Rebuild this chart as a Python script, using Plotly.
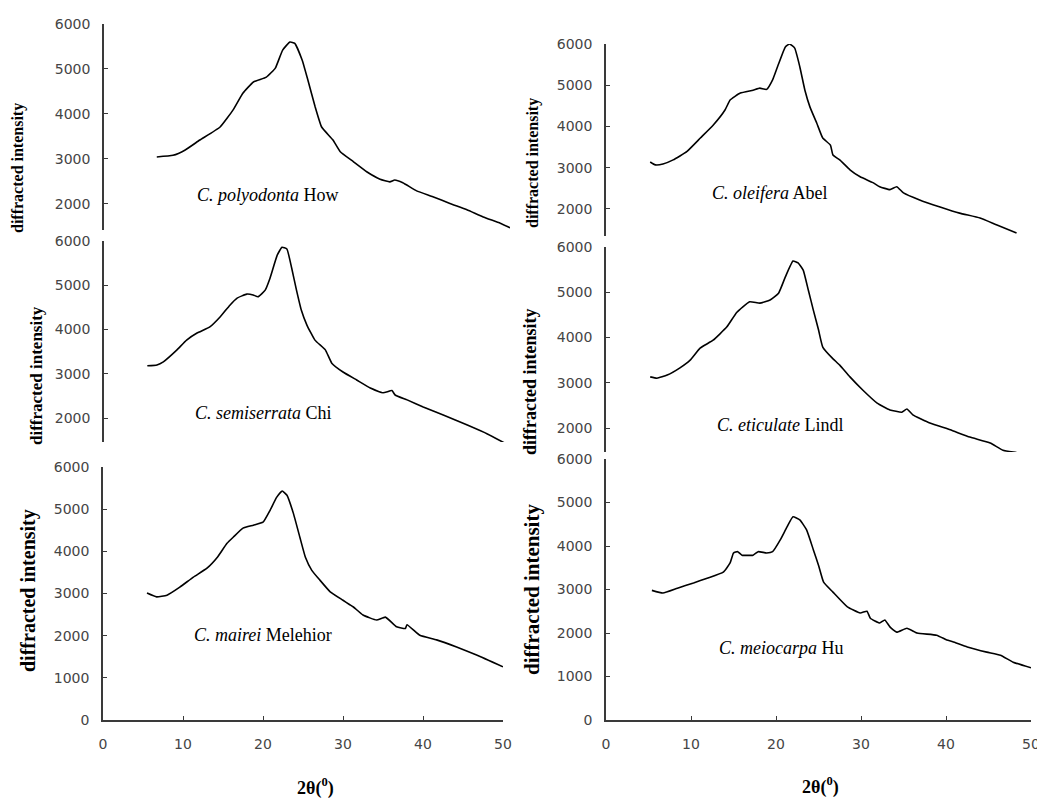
import plotly.graph_objects as go

# ----------------
# DATA
# ----------------

polyodonta_x = [6.5, 8.5, 10.0, 11.8, 14.3, 15.9, 17.1, 18.4, 20.0, 21.1, 22.0, 22.9, 23.5, 24.4, 25.1, 26.0, 26.8, 28.2, 29.1, 30.7,
                32.4, 34.0, 35.2, 35.8, 36.8, 38.5, 40.5, 42.6, 44.7, 46.7, 48.8, 50.0]
polyodonta_y = [3044, 3080, 3200, 3420, 3710, 4090, 4460, 4710, 4820, 5020, 5420, 5600, 5570, 5200, 4760, 4160, 3710, 3420, 3160, 2940,
                2710, 2550, 2490, 2530, 2470, 2290, 2160, 2010, 1870, 1710, 1570, 1470]

oleifera_x = [5.2, 5.8, 6.7, 7.9, 9.5, 11.1, 12.6, 14.0, 14.6, 15.8, 17.3, 18.1, 18.9, 19.6, 20.2, 21.1, 21.6, 22.2, 22.8, 23.4,
              24.0, 24.8, 25.5, 26.4, 26.7, 27.5, 28.7, 29.9, 31.4, 32.2, 33.4, 34.2, 35.0, 36.9, 39.3, 41.6, 44.0, 46.0, 48.3]
oleifera_y = [3140, 3070, 3090, 3190, 3390, 3720, 4030, 4400, 4640, 4810, 4880, 4930, 4900, 5130, 5460, 5930, 6000, 5900, 5450, 4880,
              4470, 4080, 3720, 3550, 3310, 3190, 2950, 2780, 2640, 2540, 2470, 2540, 2390, 2220, 2050, 1900, 1780, 1610, 1420]

semiserrata_x = [5.4, 6.6, 7.4, 9.1, 10.3, 11.6, 13.2, 14.5, 15.7, 16.6, 17.8, 18.6, 19.2, 20.1, 20.7, 21.6, 22.2, 22.8, 23.4, 24.0,
                 24.6, 25.3, 26.3, 27.6, 28.4, 29.8, 31.5, 33.2, 34.8, 35.9, 36.3, 37.8, 39.8, 42.3, 45.3, 47.8, 50.0]
semiserrata_y = [3180, 3200, 3270, 3540, 3760, 3920, 4060, 4290, 4550, 4710, 4800, 4780, 4740, 4890, 5160, 5680, 5860, 5820, 5390, 4890,
                 4440, 4100, 3760, 3540, 3240, 3040, 2860, 2680, 2570, 2620, 2520, 2410, 2250, 2070, 1840, 1640, 1430]

eticulate_x = [5.2, 6.0, 7.2, 8.7, 9.9, 11.1, 12.6, 14.2, 15.4, 16.9, 18.1, 19.3, 20.3, 21.1, 22.0, 22.6, 23.2, 23.8, 24.4, 25.0,
               25.5, 26.6, 27.5, 28.7, 30.2, 31.9, 33.4, 34.8, 35.4, 36.1, 38.1, 40.5, 42.8, 45.2, 46.7, 48.7, 50.0]
eticulate_y = [3130, 3100, 3170, 3330, 3500, 3770, 3940, 4230, 4560, 4790, 4760, 4830, 4980, 5340, 5690, 5650, 5490, 5050, 4600, 4170,
               3790, 3550, 3390, 3130, 2840, 2550, 2400, 2350, 2420, 2290, 2110, 1960, 1800, 1670, 1510, 1440, 1350]

mairei_x = [5.5, 6.7, 8.0, 9.6, 11.3, 13.0, 14.3, 15.5, 16.3, 17.5, 18.8, 20.0, 20.9, 21.7, 22.4, 23.0, 23.8, 24.6, 25.3, 26.1,
            27.1, 28.4, 30.0, 30.8, 31.3, 32.5, 34.2, 35.3, 36.7, 37.8, 38.0, 39.6, 41.7, 44.2, 46.7, 50.0]
mairei_y = [3010, 2920, 2960, 3150, 3390, 3600, 3860, 4190, 4340, 4550, 4620, 4690, 4980, 5280, 5430, 5330, 4900, 4340, 3860, 3550,
            3320, 3040, 2840, 2740, 2680, 2490, 2370, 2440, 2210, 2170, 2260, 2010, 1900, 1730, 1540, 1260]

meiocarpa_x = [5.4, 6.7, 8.4, 10.3, 11.9, 13.8, 14.6, 15.0, 15.5, 16.0, 17.3, 17.9, 18.9, 19.6, 20.5, 21.3, 22.0, 22.8, 23.6, 24.4,
               25.0, 25.6, 26.7, 28.4, 29.9, 30.7, 31.1, 32.2, 32.8, 33.4, 34.2, 35.4, 36.6, 38.9, 40.1, 40.8, 42.5, 44.8, 46.4,
               47.9, 50.0]
meiocarpa_y = [2980, 2920, 3030, 3150, 3260, 3400, 3610, 3840, 3870, 3790, 3790, 3870, 3840, 3870, 4140, 4440, 4670, 4600, 4370, 3910,
               3560, 3170, 2940, 2600, 2460, 2500, 2340, 2230, 2300, 2140, 2020, 2110, 2000, 1950, 1840, 1800, 1680, 1560, 1490,
               1330, 1200]

species = ["<i>C. polyodonta</i> How", "<i>C. oleifera</i> Abel", "<i>C. semiserrata</i> Chi",
           "<i>C. eticulate</i> Lindl", "<i>C. mairei</i> Melehior", "<i>C. meiocarpa</i> Hu"]
y_title = "diffracted intensity"
x_title = "<b>2θ(<sup>0</sup>)</b>"
y_ticks = [0, 1000, 2000, 3000, 4000, 5000, 6000]
x_ticks = [0, 10, 20, 30, 40, 50]

series = [(polyodonta_x, polyodonta_y), (oleifera_x, oleifera_y), (semiserrata_x, semiserrata_y),
          (eticulate_x, eticulate_y), (mairei_x, mairei_y), (meiocarpa_x, meiocarpa_y)]

# ----------------
# PANEL GEOMETRY (page pixels of the 1045x798 window)
# ----------------

# the plot div sits 8px in from the page corner (default body margin)
OFF = 8
W, H = 1045 - OFF, 798 - OFF

# left px, right px, top px, bottom px, y lower limit
panels = [
    (104, 510, 24, 230, 1420),
    (606, 1031, 44, 236, 1345),
    (104, 505, 241, 442, 1458),
    (606, 1031, 247, 452, 1470),
    (103, 503, 467, 720, 0),
    (606, 1031, 459, 720, 0),
]

# label centres: species text, y-title (x, y, size)
label_pos = [(268, 195), (770, 193), (263, 413), (780, 425), (263, 635), (781, 648)]
ytitle_pos = [(18, 168, 16), (533, 163, 16), (36, 376, 17), (530, 382, 18), (28, 591, 20), (532, 590, 21)]
xtitle_pos = [(315, 787), (820, 786)]


def px(v):
    return (v - OFF) / W


def py(v):
    return 1 - (v - OFF) / H


fig = go.Figure()

tick_font = dict(family="DejaVu Sans", size=14, color="#454545")
axis_col = "#3a3a3a"

for i, ((xs, ys), (l, r, t, b, ylo)) in enumerate(zip(series, panels)):
    n = "" if i == 0 else str(i + 1)
    fig.add_trace(go.Scatter(
        x=xs, y=ys, mode="lines",
        line=dict(color="black", width=1.6, shape="spline", smoothing=0.4),
        xaxis="x" + n, yaxis="y" + n,
        showlegend=False, hoverinfo="skip"
    ))
    bottom = i >= 4
    fig.update_layout({
        "xaxis" + n: dict(
            domain=[px(l), px(r)], range=[0, 50], anchor="y" + n,
            visible=bottom, showgrid=False, zeroline=False, automargin=False,
            showline=True, linecolor=axis_col, linewidth=1.5,
            ticks="inside", ticklen=4, tickcolor=axis_col,
            tickvals=x_ticks, tickfont=tick_font, ticklabelstandoff=10
        ),
        "yaxis" + n: dict(
            domain=[py(b), py(t)], range=[ylo, 6000], anchor="x" + n,
            showgrid=False, zeroline=False, automargin=False,
            showline=True, linecolor=axis_col, linewidth=1.5,
            ticks="inside", ticklen=4, tickcolor=axis_col,
            tickvals=[v for v in y_ticks if v >= ylo], tickfont=tick_font,
            ticklabelstandoff=9
        ),
    })

# species names
for (x0, y0), name in zip(label_pos, species):
    fig.add_annotation(x=px(x0), y=py(y0), xref="paper", yref="paper", text=name,
                       xanchor="center", yanchor="middle", showarrow=False,
                       font=dict(family="Liberation Serif", size=18, color="black"))

# y titles
for (x0, y0, s) in ytitle_pos:
    fig.add_annotation(x=px(x0), y=py(y0), xref="paper", yref="paper", text="<b>" + y_title + "</b>",
                       textangle=-90, xanchor="center", yanchor="middle", showarrow=False,
                       font=dict(family="Liberation Serif", size=s, color="black"))

# x titles
for (x0, y0) in xtitle_pos:
    fig.add_annotation(x=px(x0), y=py(y0), xref="paper", yref="paper", text=x_title,
                       xanchor="center", yanchor="middle", showarrow=False,
                       font=dict(family="Liberation Serif", size=18, color="black"))

fig.update_layout(
    width=W, height=H, autosize=False,
    margin=dict(l=0, r=0, t=0, b=0),
    paper_bgcolor="white", plot_bgcolor="rgba(0,0,0,0)"
)

fig.write_html("out.html")
